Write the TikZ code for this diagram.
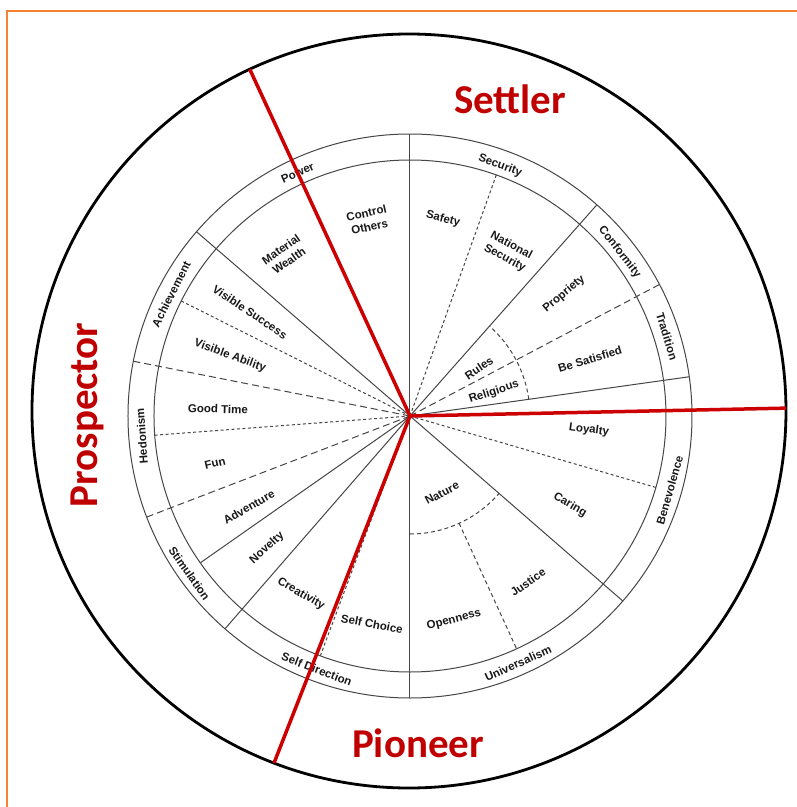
\documentclass[tikz,border=0pt]{standalone}
\usepackage{fontspec}
\setmainfont{Liberation Sans}
\newfontfamily\bigfont{Carlito}
\definecolor{redline}{RGB}{204,0,0}
\definecolor{redtext}{RGB}{192,0,0}
\definecolor{orangeb}{RGB}{245,130,50}
\definecolor{wheelgray}{RGB}{70,70,70}
\definecolor{txt}{RGB}{25,25,25}
\begin{document}
\begin{tikzpicture}[x=1pt,y=1pt,
  wline/.style={draw=wheelgray,line width=1pt},
  longdash/.style={wline,dash pattern=on 7pt off 4pt},
  shortdash/.style={wline,dash pattern=on 3pt off 2.5pt},
  arcdash/.style={wline,dash pattern=on 4pt off 3pt},
  redl/.style={draw=redline,line width=3.5pt},
  seg/.style={font=\bfseries\fontsize{11.5}{14}\selectfont,text=txt,inner sep=0pt,align=center},
  ringlab/.style={seg},
  big/.style={font=\bigfont\bfseries\fontsize{41}{41}\selectfont,text=redtext,inner sep=0pt}
]
\useasboundingbox (-410,-391) rectangle (387,416);
\fill[white] (-410,-391) rectangle (387,416);
% orange frame
\draw[orangeb,line width=2.8pt] (-403,-391) -- (-403,405) -- (387,405);
% outer circle
\node[circle,draw=black,line width=2.8pt,minimum size=754pt,inner sep=0pt] (outer) at (-1,5) {};
\coordinate (c) at (0,0);
% wheel rings
\draw[wline] (c) circle (256);
\draw[wline] (c) circle (282);
% solid boundaries through ring
\foreach \a in {90,48.5,8,-41,-90,-131,139.2}
  \draw[wline] (c) -- (\a:282);
% dashed boundaries through ring
\foreach \a in {27.8,-159,168.8}
  \draw[longdash] (c) -- (\a:282);
% inner solid
\draw[wline] (c) -- (-145:256);
% inner dotted
\foreach \a in {70.3,-16.2,-110.5,-175.7,153.3}
  \draw[shortdash] (c) -- (\a:256);
% dashed arcs
\draw[arcdash] (8:120) arc[start angle=8,end angle=48.5,radius=120];
\draw[arcdash] (-90:118) arc[start angle=-90,end angle=-41,radius=118];
\draw[arcdash] (-65.4:118) -- (-65.4:256);
% ring labels
\node[ringlab,rotate=24] (power) at (114.8:268) {Power};
\node[ringlab,rotate=-20] (security) at (70.2:266) {Security};
\node[ringlab,rotate=-52] (conformity) at (38:266) {Conformity};
\node[ringlab,rotate=-73] (tradition) at (17.2:269) {Tradition};
\node[ringlab,rotate=74] (benevolence) at (-15.9:270) {Benevolence};
\node[ringlab,rotate=24] (universalism) at (-66.4:270) {Universalism};
\node[ringlab,rotate=-21] (selfdirection) at (-110.2:270) {Self Direction};
\node[ringlab,rotate=-55] (stimulation) at (-144.5:271) {Stimulation};
\node[ringlab,rotate=94] (hedonism) at (-175.7:269) {Hedonism};
\node[ringlab,rotate=63] (achievement) at (153:268) {Achievement};
% segment labels
\node[seg,rotate=13] (control) at (-42,196) {Control\\Others};
\node[seg,rotate=35] (material) at (-125,161) {Material\\Wealth};
\node[seg,rotate=-34] (vsuccess) at (-160,104) {Visible Success};
\node[seg,rotate=-20] (vability) at (-180,60) {Visible Ability};
\node[seg,rotate=-2] (goodtime) at (-192,7) {Good Time};
\node[seg,rotate=13] (fun) at (-195,-47) {Fun};
\node[seg,rotate=30] (adventure) at (-161,-91) {Adventure};
\node[seg,rotate=42] (novelty) at (-143,-132) {Novelty};
\node[seg,rotate=-30] (creativity) at (-109,-178) {Creativity};
\node[seg,rotate=-11] (selfchoice) at (-38,-208) {Self Choice};
\node[seg,rotate=15] (openness) at (44,-204) {Openness};
\node[seg,rotate=35] (justice) at (118,-166) {Justice};
\node[seg,rotate=28] (nature) at (32,-77) {Nature};
\node[seg,rotate=-30] (caring) at (160,-89) {Caring};
\node[seg,rotate=-8] (loyalty) at (179,-14) {Loyalty};
\node[seg,rotate=17] (besatisfied) at (180,57) {Be Satisfied};
\node[seg,rotate=18] (religious) at (84,24) {Religious};
\node[seg,rotate=34] (rules) at (69,48) {Rules};
\node[seg,rotate=40] (propriety) at (154,122) {Propriety};
\node[seg,rotate=-28] (natsec) at (98,164) {National\\Security};
\node[seg,rotate=-14] (safety) at (33,197) {Safety};
% red dividing lines
\coordinate (rtop) at (114.8:382);
\coordinate (rbot) at (-111.4:372.7);
\coordinate (rright) at (1.2:376.1);
\draw[redl] (rtop) -- (c);
\draw[redl] (rbot) -- (c);
\draw[redl] (c) -- (rright);
% big labels
\node[big] (settler) at (100,317) {Settler};
\node[big] (pioneer) at (8,-327) {Pioneer};
\node[big,rotate=90] (prospector) at (-323,1) {Prospector};
\end{tikzpicture}
\end{document}
